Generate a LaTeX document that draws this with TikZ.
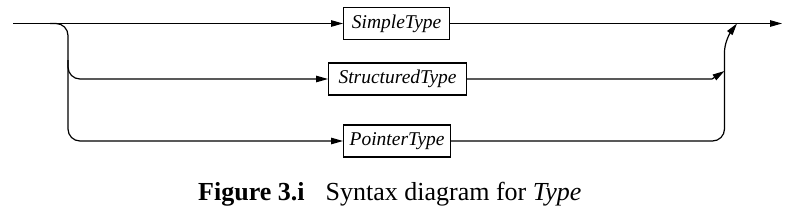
\documentclass[tikz,border=0pt]{standalone}
\usepackage{fontspec}
\setmainfont{Liberation Serif}
\usetikzlibrary{arrows.meta}
\tikzset{synbox/.style={draw,line width=1.2pt,anchor=west,minimum height=32pt,inner sep=0pt,
  font=\fontsize{19.5}{22}\selectfont\itshape},
  synline/.style={line width=1.2pt},
  tip/.style={-{Triangle[length=12pt,width=6.5pt]}}}

\begin{document}
\begin{tikzpicture}[x=1pt,y=-1pt]
\useasboundingbox (0,0) rectangle (789,214);
% the three alternatives
\node[synbox,minimum width=106pt] (simple) at (343,23.5) {SimpleType};
\node[synbox,minimum width=138pt] (structured) at (328,79) {StructuredType};
\node[synbox,minimum width=107pt] (pointer) at (343,141) {PointerType};
\coordinate (in) at (13,23.5); \coordinate (out) at (782,23.5);
\coordinate (join) at (737,23.5);
% entry and the branches on the left
\draw[synline,tip] (in)--(simple.west);
\draw[synline,tip,rounded corners=12pt] (50,23.5)--(68,23.5)--(68,141)--(pointer.west);
\draw[synline,tip,rounded corners=12pt] (68,60)|-(structured.west);
% exits and the join on the right
\draw[synline,tip] (simple.east)--(out);
\draw[synline,tip] (structured.east)--(712,79)--(724.5,71);
\draw[synline,tip] (pointer.east) [rounded corners=12pt] -|(724.5,40) [sharp corners] --(join);
\node[anchor=base west,inner sep=0pt,font=\fontsize{26}{30}\selectfont] (cap) at (198,200)
  {\textbf{Figure 3.i}\hspace{21pt}Syntax diagram for \textit{Type}};
\end{tikzpicture}
\end{document}
